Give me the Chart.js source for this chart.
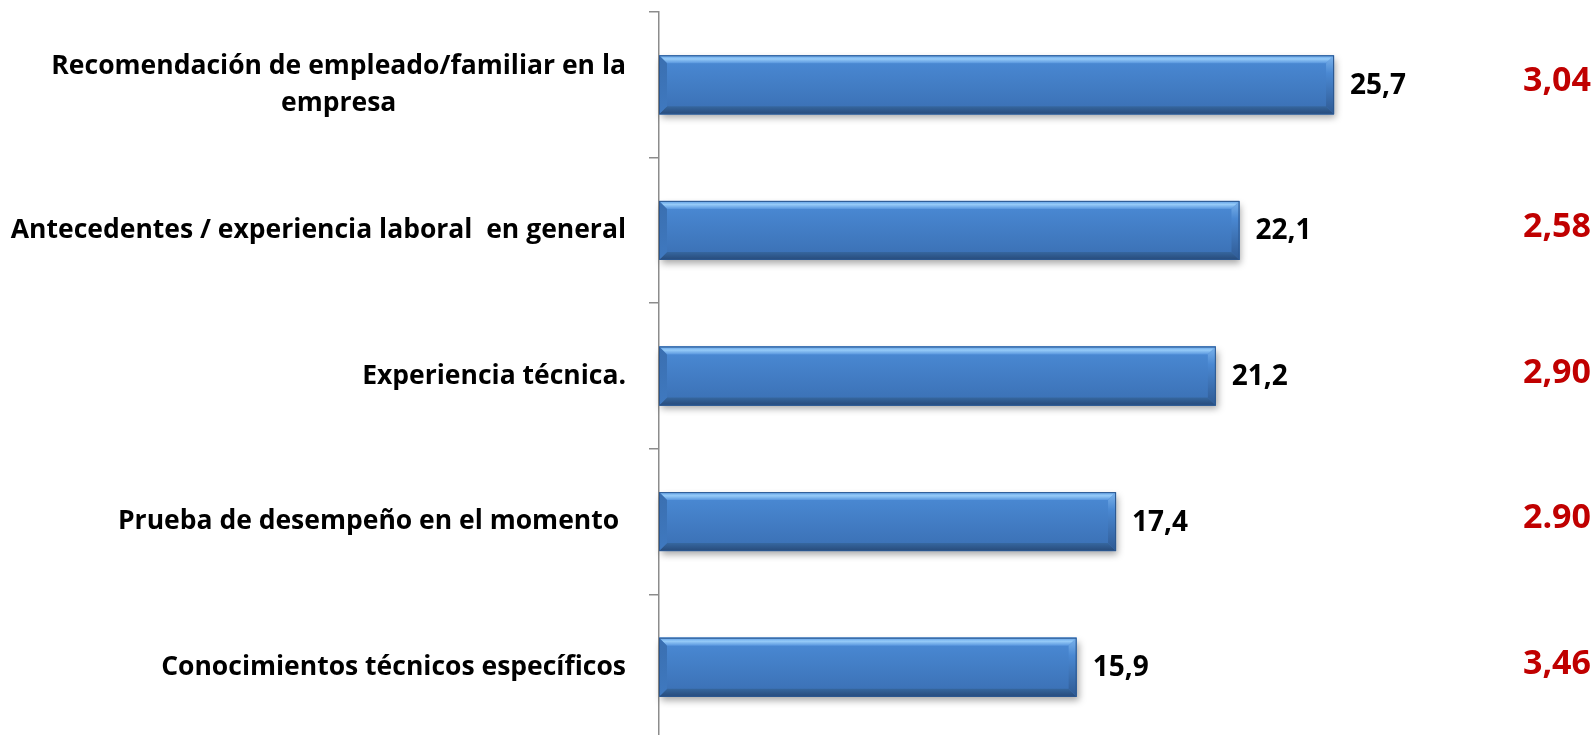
<!DOCTYPE html>
<html>
<head>
<meta charset="utf-8">
<script src="https://cdn.jsdelivr.net/npm/chart.js@4"></script>
<style>
html, body { margin: 0; padding: 0; background: #fff; overflow: hidden; }
#wrap { width: 1596px; height: 745px; }
</style>
</head>
<body>
<div id="wrap"><canvas id="factorChart" width="1596" height="745"></canvas></div>
<script>
const categories = [
    ["Recomendación de empleado/familiar en la", "empresa"],
    "Antecedentes / experiencia laboral  en general",
    "Experiencia técnica.",
    "Prueba de desempeño en el momento ",
    "Conocimientos técnicos específicos"
];
const percentages = [25.7, 22.1, 21.2, 17.4, 15.9];
const scores = ["3,04", "2,58", "2,90", "2.90", "3,46"];

const labelFont = "bold 26.5px 'Open Sans', Lato, sans-serif";
const valueFont = "bold 28px 'Open Sans', Lato, sans-serif";
const scoreFont = "bold 34px 'Open Sans', Lato, sans-serif";

// soft shadow under each bar
const barShadow = {
    id: "barShadow",
    beforeDatasetsDraw(chart) {
        const ctx = chart.ctx;
        ctx.save();
        chart.getDatasetMeta(0).data.forEach(bar => {
            const h = bar.height;
            ctx.shadowColor = "rgba(0, 0, 0, 0.35)";
            ctx.shadowBlur = 7;
            ctx.shadowOffsetX = 2;
            ctx.shadowOffsetY = 4;
            ctx.fillStyle = "#3c78c0";
            ctx.fillRect(bar.base, bar.y - h / 2, bar.x - bar.base, h);
        });
        ctx.restore();
    }
};

// bevelled look on top of the library's bars
const barBevel = {
    id: "barBevel",
    afterDatasetsDraw(chart) {
        const ctx = chart.ctx;
        const b = 8;
        ctx.save();
        chart.getDatasetMeta(0).data.forEach(bar => {
            const x0 = bar.base, x1 = bar.x;
            const top = bar.y - bar.height / 2, bot = bar.y + bar.height / 2;

            let g = ctx.createLinearGradient(0, top, 0, bot);
            g.addColorStop(0, "#4b8bd6");
            g.addColorStop(1, "#3a6fb3");
            ctx.fillStyle = g;
            ctx.fillRect(x0, top, x1 - x0, bot - top);

            // top bevel
            g = ctx.createLinearGradient(0, top, 0, top + b);
            g.addColorStop(0, "#5c9ce4");
            g.addColorStop(0.45, "#96cbf8");
            g.addColorStop(1, "#5896de");
            ctx.fillStyle = g;
            ctx.beginPath();
            ctx.moveTo(x0, top); ctx.lineTo(x1, top);
            ctx.lineTo(x1 - b, top + b); ctx.lineTo(x0 + b, top + b);
            ctx.closePath(); ctx.fill();

            // bottom bevel
            g = ctx.createLinearGradient(0, bot - b, 0, bot);
            g.addColorStop(0, "#36679f");
            g.addColorStop(1, "#274a7a");
            ctx.fillStyle = g;
            ctx.beginPath();
            ctx.moveTo(x0 + b, bot - b); ctx.lineTo(x1 - b, bot - b);
            ctx.lineTo(x1, bot); ctx.lineTo(x0, bot);
            ctx.closePath(); ctx.fill();

            // right end bevel
            g = ctx.createLinearGradient(0, top, 0, bot);
            g.addColorStop(0, "#7db4ec");
            g.addColorStop(0.3, "#4a88d2");
            g.addColorStop(1, "#2f5a93");
            ctx.fillStyle = g;
            ctx.beginPath();
            ctx.moveTo(x1 - b, top + b); ctx.lineTo(x1, top);
            ctx.lineTo(x1, bot); ctx.lineTo(x1 - b, bot - b);
            ctx.closePath(); ctx.fill();

            // left end bevel
            g = ctx.createLinearGradient(0, top, 0, bot);
            g.addColorStop(0, "#3a6fb0");
            g.addColorStop(1, "#3f79c0");
            ctx.fillStyle = g;
            ctx.beginPath();
            ctx.moveTo(x0, top); ctx.lineTo(x0 + b, top + b);
            ctx.lineTo(x0 + b, bot - b); ctx.lineTo(x0, bot);
            ctx.closePath(); ctx.fill();

            ctx.strokeStyle = "#2c5890";
            ctx.lineWidth = 1;
            ctx.strokeRect(x0 + 0.5, top + 0.5, x1 - x0 - 1, bot - top - 1);
        });
        ctx.restore();
    }
};

// category names, data values and red scores
const textLayer = {
    id: "textLayer",
    afterDraw(chart) {
        const ctx = chart.ctx;
        const yScale = chart.scales.y;
        const area = chart.chartArea;
        const meta = chart.getDatasetMeta(0);
        ctx.save();
        ctx.textBaseline = "middle";

        ctx.font = labelFont;
        ctx.fillStyle = "#000";
        categories.forEach((cat, i) => {
            const lines = Array.isArray(cat) ? cat : [cat];
            const y = yScale.getPixelForValue(i);
            const right = area.left - 33;
            const lh = 37;
            const widths = lines.map(l => ctx.measureText(l).width);
            const maxW = Math.max(...widths);
            lines.forEach((l, k) => {
                const ly = y + (k - (lines.length - 1) / 2) * lh;
                ctx.textAlign = "center";
                ctx.fillText(l, right - maxW / 2, ly);
            });
        });

        ctx.font = valueFont;
        ctx.textAlign = "left";
        meta.data.forEach((bar, i) => {
            ctx.fillText(percentages[i].toFixed(1).replace(".", ","), bar.x + 16, bar.y + 1);
        });

        ctx.font = scoreFont;
        ctx.textAlign = "right";
        ctx.fillStyle = "#c00000";
        meta.data.forEach((bar, i) => {
            ctx.fillText(scores[i], chart.width - 5, bar.y - 3);
        });
        ctx.restore();
    }
};

const ctx = document.getElementById("factorChart").getContext("2d");
const factorChart = new Chart(ctx, {
    type: "bar",
    data: {
        labels: categories,
        datasets: [
            {
                data: percentages,
                backgroundColor: "#3f7cc4",
                borderWidth: 0,
                barPercentage: 0.405,
                categoryPercentage: 1,
            },
        ],
    },
    options: {
        indexAxis: "y",
        responsive: false,
        animation: false,
        events: [],
        layout: {
            padding: { left: 649, right: 149, top: 12, bottom: 5 }
        },
        plugins: {
            legend: { display: false },
            tooltip: { enabled: false },
        },
        scales: {
            x: {
                display: false,
                min: 0,
                max: 30,
            },
            y: {
                offset: true,
                grid: {
                    display: true,
                    drawOnChartArea: false,
                    offset: true,
                    tickLength: 10,
                    color: "#8c8c8c",
                    lineWidth: 1.5,
                },
                border: { display: true, color: "#8c8c8c", width: 1.5 },
                ticks: { display: false },
            },
        },
    },
    plugins: [barShadow, barBevel, textLayer],
});
</script>
</body>
</html>
